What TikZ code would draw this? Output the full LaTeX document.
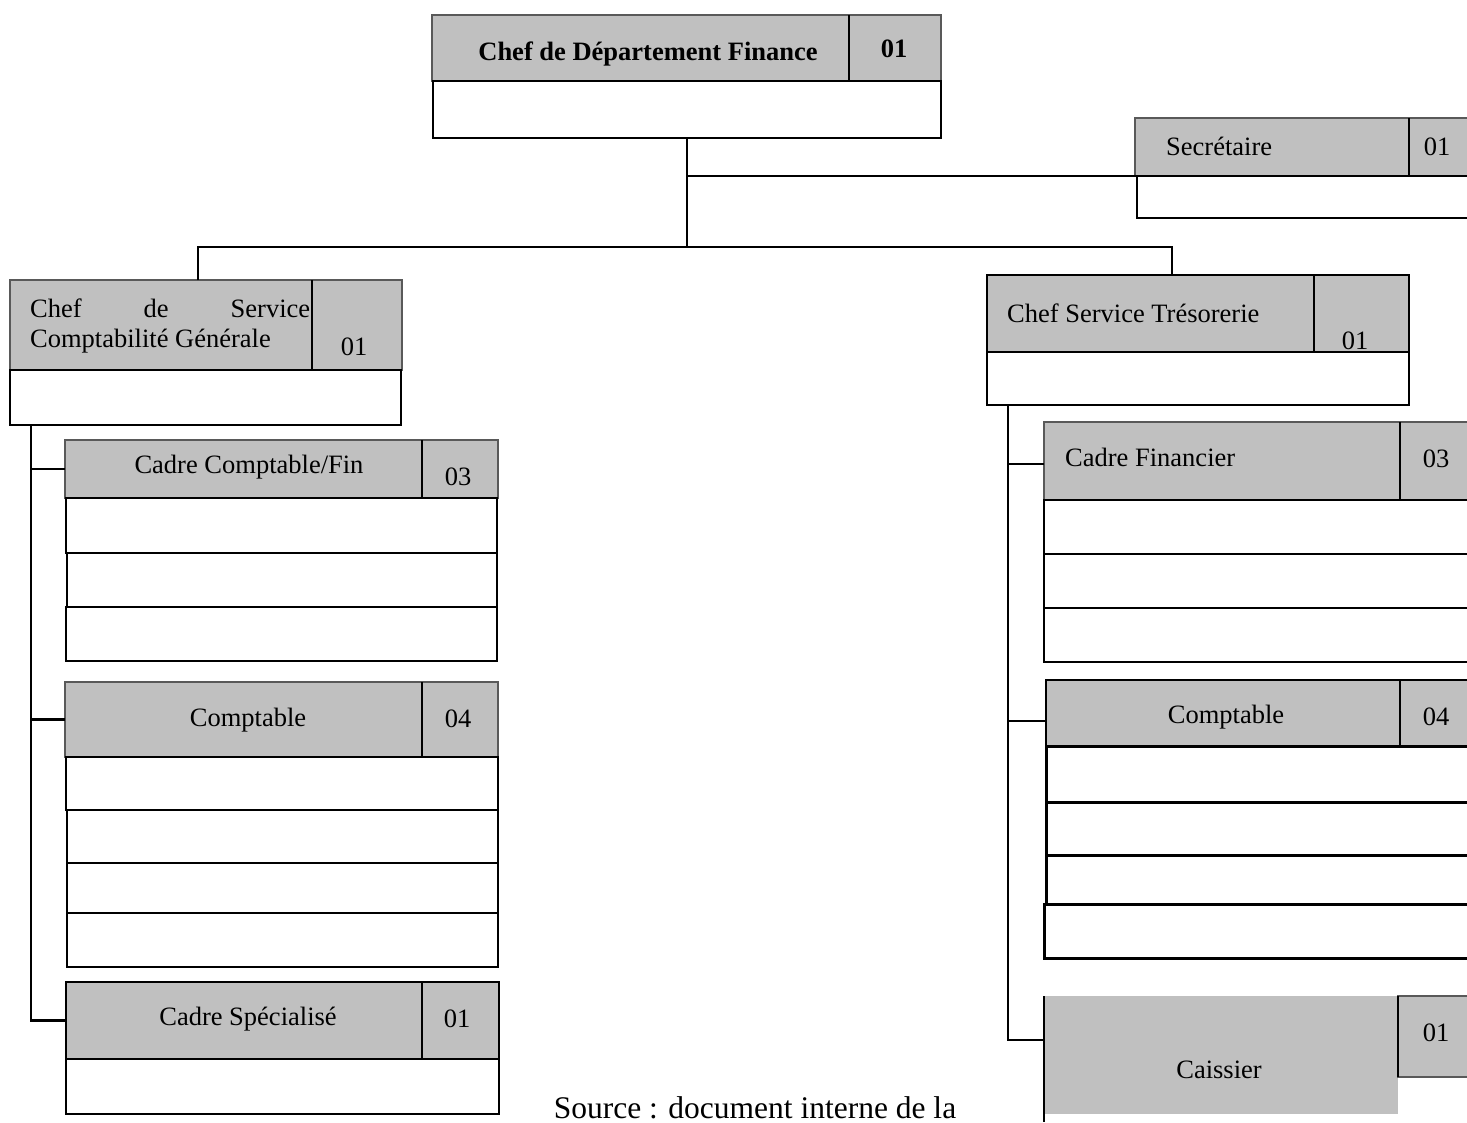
\documentclass[tikz,border=0pt]{standalone}
\usepackage{fontspec}
\setmainfont{Liberation Serif}
\definecolor{hdrgray}{RGB}{192,192,192}
\newcommand\lbl{\fontsize{26.5}{30}\selectfont}
\newcommand\srcfont{\fontsize{31.5}{36}\selectfont}
\begin{document}
\begin{tikzpicture}[x=1pt,y=-1pt,
  sz/.style 2 args={minimum width=#1pt, minimum height=#2pt},
  hdr/.style={rectangle, fill=hdrgray, draw=black!65, line width=1.4pt, anchor=north west, inner sep=0pt, outer sep=0pt},
  hdrk/.style={hdr, draw=black, line width=2.8pt},
  cell/.style={rectangle, fill=white, draw=black, line width=2.7pt, anchor=north west, inner sep=0pt, outer sep=0pt},
  divl/.style={draw=black, line width=2.5pt},
  link/.style={draw=black, line width=2.7pt},
  txt/.style={font=\lbl, anchor=base, inner sep=0pt},
  txtb/.style={font=\lbl\bfseries, anchor=base, inner sep=0pt}]
\useasboundingbox (0,0) rectangle (1467,1122);

% ---------- top ----------
\node[hdr, sz={509}{66}] (toph) at (432,15) {};
\node[cell, sz={508}{57}] (topw) at (433,81) {};
\draw[divl] (849,15) -- (849,81);
\node[txtb] (topt) at (648,60) {Chef de Département Finance};
\node[txtb] (topn) at (894,57) {01};

% ---------- secretary ----------
\node[hdr, sz={345}{58}] (sech) at (1135,118) {};
\node[cell, sz={345}{42}] (secw) at (1137,176) {};
\draw[divl] (1409,118) -- (1409,176);
\node[txt, anchor=base west] (sect) at (1166,155) {Secrétaire};
\node[txt] (secn) at (1437,155) {01};

% ---------- left chef ----------
\node[hdr, sz={392}{90}] (lch) at (10,280) {};
\node[cell, sz={391}{55}] (lcw) at (10,370) {};
\draw[divl] (312,280) -- (312,370);
\node[txt, anchor=base west] (lct1) at (30,317) {\makebox[280pt][s]{Chef de Service}};
\node[txt, anchor=base west] (lct2) at (30,347) {Comptabilité Générale};
\node[txt] (lcn) at (354,355) {01};

% ---------- right chef ----------
\node[hdrk, line width=2.2pt, sz={422}{77}] (rch) at (987,275) {};
\node[cell, sz={422}{53}] (rcw) at (987,352) {};
\draw[divl] (1314,275) -- (1314,352);
\node[txt, anchor=base west] (rct) at (1007,322) {Chef Service Trésorerie};
\node[txt] (rcn) at (1355,349) {01};

% ---------- top connectors ----------
\coordinate (jl) at (198,247);
\coordinate (jr) at (1172,247);
\draw[link] (topw.south) -- (topw.south |- secw.north west) -- (secw.north west);
\draw[link] (topw.south) -- (topw.south |- jl);
\draw[link] (jl |- lch.north) -- (jl) -- (jr) -- (jr |- rch.north);

% ---------- left column ----------
\node[hdr, sz={433}{58}] (cch) at (65,440) {};
\draw[divl] (422,440) -- (422,498);
\node[txt] (cct) at (249,473) {Cadre Comptable/Fin};
\node[txt] (ccn) at (458,485) {03};
\node[cell, sz={431}{55}] (cc1) at (66,498) {};
\node[cell, sz={430}{54}] (cc2) at (67,553) {};
\node[cell, sz={431}{54}] (cc3) at (66,607) {};

\node[hdr, sz={433}{75}] (cpl) at (65,682) {};
\draw[divl] (422,682) -- (422,757);
\node[txt] (cplt) at (248,726) {Comptable};
\node[txt] (cpln) at (458,727) {04};
\node[cell, sz={432}{53}] (cpl1) at (66,757) {};
\node[cell, sz={431}{53}] (cpl2) at (67,810) {};
\node[cell, sz={431}{50}] (cpl3) at (67,863) {};
\node[cell, sz={431}{54}] (cpl4) at (67,913) {};

\node[hdrk, sz={433}{77}] (csh) at (66,982) {};
\draw[divl] (422,982) -- (422,1059);
\node[txt] (cst) at (248,1025) {Cadre Spécialisé};
\node[txt] (csn) at (457,1027) {01};
\node[cell, sz={433}{55}] (cs1) at (66,1059) {};

\coordinate (ls) at (31,425);
\draw[link] (ls) |- (csh.west);
\draw[link] (ls |- cch.west) -- (cch.west);
\draw[link] (ls |- cpl.west) -- (cpl.west);

% ---------- right column ----------
\node[hdr, sz={440}{78}] (cfh) at (1044,422) {};
\draw[divl] (1400,422) -- (1400,500);
\node[txt, anchor=base west] (cft) at (1065,466) {Cadre Financier};
\node[txt] (cfn) at (1436,467) {03};
\node[cell, sz={440}{54}] (cf1) at (1044,500) {};
\node[cell, sz={440}{54}] (cf2) at (1044,554) {};
\node[cell, sz={440}{54}] (cf3) at (1044,608) {};

\node[hdrk, sz={440}{66}] (cpr) at (1046,680) {};
\draw[divl] (1400,680) -- (1400,746);
\node[txt] (cprt) at (1226,723) {Comptable};
\node[txt] (cprn) at (1436,725) {04};
\node[cell, line width=3pt, sz={440}{56}] (cpr1) at (1046,746) {};
\node[cell, line width=3pt, sz={440}{53}] (cpr2) at (1046,802) {};
\node[cell, line width=3pt, sz={440}{49}] (cpr3) at (1046,855) {};
\node[cell, line width=3pt, sz={440}{54}] (cpr4) at (1044,904) {};

\node[rectangle, fill=hdrgray, anchor=north west, inner sep=0pt, outer sep=0pt, sz={354}{118}] (cai) at (1044,996) {};
\node[hdr, sz={80}{81}] (cain) at (1398,996) {};
\draw[divl] (1398,996) -- (1398,1077);
\draw[link] (cai.north west) -- (1044,1122);
\node[txt] (cait) at (1219,1078) {Caissier};
\node[txt] (cainn) at (1436,1041) {01};

\coordinate (rs) at (1008,405);
\coordinate (caic) at (1044,1040);
\draw[link] (rs) |- (caic);
\draw[link] (rs |- 0,464) -- (cfh.west |- 0,464);
\draw[link] (rs |- 0,721) -- (cpr.west |- 0,721);

% ---------- source ----------
\node[font=\srcfont, anchor=base, inner sep=0pt] (src) at (755,1118) {Source : document interne de la};
\end{tikzpicture}
\end{document}
